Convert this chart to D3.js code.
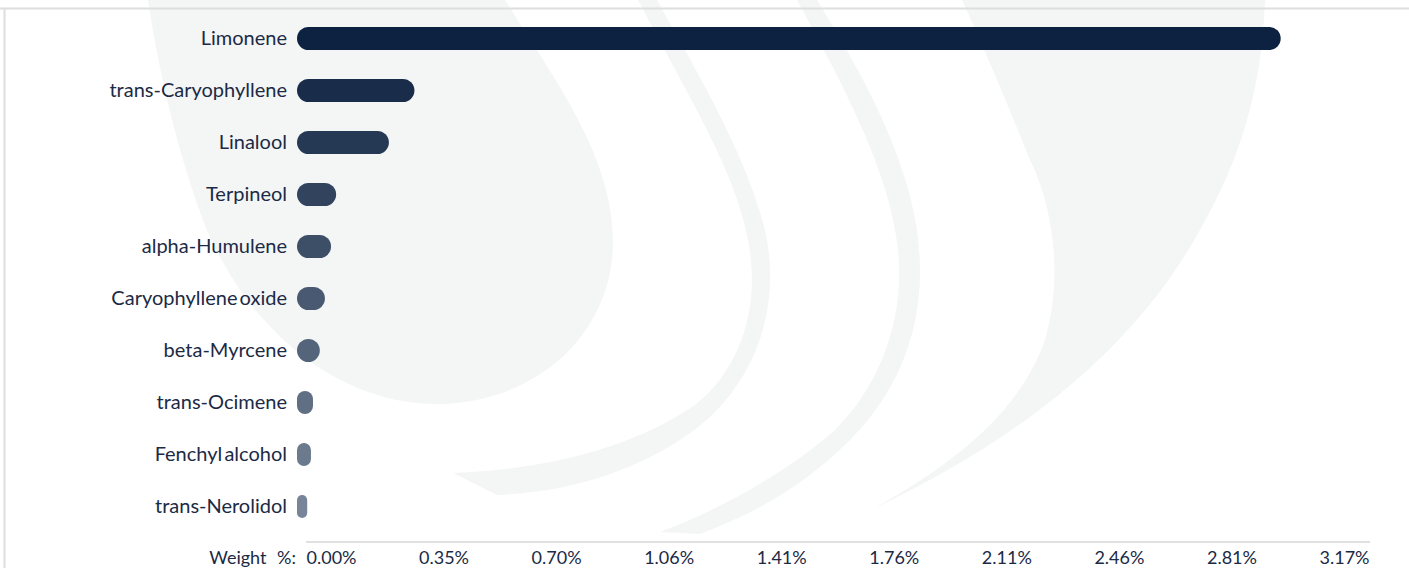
<!DOCTYPE html>
<html>
<head>
<meta charset="utf-8">
<script src="https://cdn.jsdelivr.net/npm/d3@7"></script>
<style>
  body { margin: 0; background: #fff; }
  svg { display: block; font-family: Lato, "Open Sans", sans-serif; }
  .cat { font-size: 20px; fill: #1b2a45; word-spacing: -3px; }
  .axis-label { font-size: 18px; fill: #1b2a45; word-spacing: 6px; }
  .tick text { font-size: 18px; fill: #1b2a45; font-family: Lato, sans-serif; }
</style>
</head>
<body>
<svg id="chart" width="1409" height="568"></svg>
<script>
// terpene profile, weight %
var categories = ['Limonene', 'trans-Caryophyllene', 'Linalool', 'Terpineol', 'alpha-Humulene',
  'Caryophyllene oxide', 'beta-Myrcene', 'trans-Ocimene', 'Fenchyl alcohol', 'trans-Nerolidol'];
var values = [2.89, 0.345, 0.27, 0.115, 0.10, 0.082, 0.067, 0.047, 0.041, 0.03];
var tickLabels = ['0.00%', '0.35%', '0.70%', '1.06%', '1.41%', '1.76%', '2.11%', '2.46%', '2.81%', '3.17%'];
var axisMax = 3.17;

var width = 1409;
var height = 568;
var barH = 23;
var svg = d3.select('#chart');

// watermark logo in the background
var wm = svg.append('g').attr('fill', '#f4f5f5');
wm.append('path').attr('d',
  'M148,0 L505,0 C555,80 612,155 613,240 C614,330 540,405 432,404 C340,402 252,335 206,228 C180,160 160,80 148,0 Z');
wm.append('path').attr('d',
  'M638,0 L657,0 C690,60 745,150 765,230 C785,320 745,400 680,440 C620,478 560,492 497,495 L453,473 ' +
  'C540,470 630,450 695,405 C745,365 760,300 748,240 C735,170 690,100 638,0 Z');
wm.append('path').attr('d',
  'M797,0 L817,0 C860,70 905,150 917,230 C930,320 900,390 850,440 C800,490 750,515 700,534 L660,532 ' +
  'C720,510 790,470 835,430 C880,385 905,320 898,250 C890,170 840,80 797,0 Z');
wm.append('path').attr('d',
  'M962,0 L1265,0 C1262,90 1240,160 1200,230 C1150,320 1060,420 873,509 ' +
  'C960,460 1020,410 1045,340 C1065,270 1050,200 1030,160 C1010,110 985,50 962,0 Z');

// frame lines
svg.append('line').attr('x1', 0).attr('x2', width).attr('y1', 8.5).attr('y2', 8.5)
  .attr('stroke', '#dedede').attr('stroke-width', 2);
svg.append('line').attr('x1', 4.5).attr('x2', 4.5).attr('y1', 8).attr('y2', height)
  .attr('stroke', '#dedede').attr('stroke-width', 2);

var xScale = d3.scaleLinear().domain([0, axisMax]).range([297, 1376]);
var yScale = d3.scalePoint().domain(categories).range([38.5, 506.5]);
var colorScale = d3.scaleLinear().domain([0, categories.length - 1]).range(['#0d2240', '#788598']);

var rows = svg.append('g').selectAll('g').data(categories).enter().append('g');

rows.append('rect')
  .attr('x', xScale(0))
  .attr('y', function (d) { return yScale(d) - barH / 2; })
  .attr('width', function (d, i) { return xScale(values[i]) - xScale(0); })
  .attr('height', barH)
  .attr('rx', function (d, i) { return Math.min(xScale(values[i]) - xScale(0), barH) / 2; })
  .attr('ry', function (d, i) { return Math.min(xScale(values[i]) - xScale(0), barH) / 2; })
  .attr('fill', function (d, i) { return colorScale(i); });

rows.append('text')
  .attr('class', 'cat')
  .attr('x', 287)
  .attr('y', function (d) { return yScale(d); })
  .attr('dy', '0.3em')
  .attr('text-anchor', 'end')
  .text(function (d) { return d; });

// bottom axis: labels spread evenly along the track
svg.append('line').attr('x1', 306).attr('x2', 1370).attr('y1', 542).attr('y2', 542)
  .attr('stroke', '#e0e0e0').attr('stroke-width', 2);

var tickScale = d3.scalePoint().domain(tickLabels).range([331, 1344]);
var axis = svg.append('g').attr('transform', 'translate(0, 564)')
  .call(d3.axisBottom(tickScale).tickSize(0).tickPadding(0));
axis.select('.domain').remove();
axis.selectAll('.tick text').attr('dy', 0);

svg.append('text').attr('class', 'axis-label')
  .attr('x', 296).attr('y', 564)
  .attr('text-anchor', 'end')
  .text('Weight %:');
</script>
</body>
</html>
